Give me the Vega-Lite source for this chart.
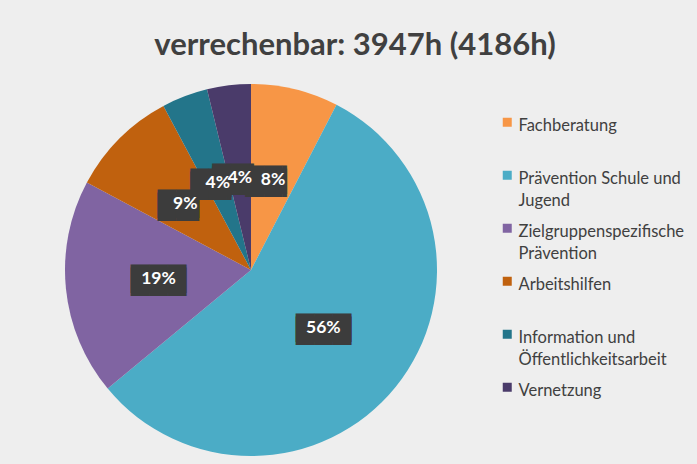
{
  "$schema": "https://vega.github.io/schema/vega-lite/v6.json",
  "autosize": {"type": "none"},
  "width": 372,
  "height": 372,
  "padding": {"left": 65, "top": 84, "right": 260, "bottom": 8},
  "background": "#eeeeee",
  "title": {
    "text": "verrechenbar: 3947h (4186h)",
    "font": "Lato",
    "fontSize": 31,
    "fontWeight": "bold",
    "color": "#404040",
    "anchor": "middle",
    "dx": 104,
    "offset": 22
  },
  "data": {
    "values": [
      {"idx": 1, "kategorie": "Fachberatung", "stunden": 300, "label": "8%"},
      {"idx": 2, "kategorie": "Prävention Schule und Jugend", "stunden": 2226, "label": "56%"},
      {"idx": 3, "kategorie": "Zielgruppenspezifische Prävention", "stunden": 742, "label": "19%"},
      {"idx": 4, "kategorie": "Arbeitshilfen", "stunden": 371, "label": "9%"},
      {"idx": 5, "kategorie": "Information und Öffentlichkeitsarbeit", "stunden": 158, "label": "4%"},
      {"idx": 6, "kategorie": "Vernetzung", "stunden": 150, "label": "4%"}
    ]
  },
  "encoding": {
    "theta": {"field": "stunden", "type": "quantitative", "stack": true},
    "order": {"field": "idx", "type": "quantitative"}
  },
  "layer": [
    {
      "mark": {"type": "arc", "outerRadius": 186},
      "encoding": {
        "color": {
          "field": "kategorie",
          "type": "nominal",
          "scale": {
            "domain": ["Fachberatung", "Prävention Schule und Jugend", "Zielgruppenspezifische Prävention", "Arbeitshilfen", "Information und Öffentlichkeitsarbeit", "Vernetzung"],
            "range": ["#f79646", "#4bacc6", "#8064a2", "#c0610e", "#23758a", "#4a3b6a"]
          },
          "legend": {
            "title": null,
            "orient": "none",
            "legendX": 434,
            "legendY": 30,
            "symbolType": "square",
            "symbolSize": 81,
            "symbolStrokeWidth": 0,
            "labelFont": "Lato",
            "labelFontSize": 16.5,
            "labelColor": "#404040",
            "labelLimit": 220,
            "labelOffset": 3,
            "labelBaseline": "top",
            "gridAlign": "all",
            "rowPadding": 10,
            "labelExpr": "datum.label === 'Prävention Schule und Jugend' ? ['Prävention Schule und', 'Jugend'] : datum.label === 'Zielgruppenspezifische Prävention' ? ['Zielgruppenspezifische', 'Prävention'] : datum.label === 'Information und Öffentlichkeitsarbeit' ? ['Information und', 'Öffentlichkeitsarbeit'] : datum.label",
            "encode": {"labels": {"update": {"lineHeight": {"value": 22}, "dy": {"value": -4}}}}
          }
        }
      }
    },
    {
      "transform": [{"calculate": "length(datum.label) > 2 ? ['███', '███'] : ['██▎', '██▎']", "as": "box"}],
      "mark": {"type": "text", "radius": 93, "font": "DejaVu Sans", "fontSize": 24, "lineHeight": 3, "color": "#3c3c3c", "baseline": "middle", "dy": 1},
      "encoding": {"text": {"field": "box", "type": "nominal"}}
    },
    {
      "mark": {"type": "text", "radius": 93, "font": "Lato", "fontSize": 17.5, "fontWeight": "bold", "color": "#ffffff", "baseline": "middle"},
      "encoding": {"text": {"field": "label", "type": "nominal"}}
    }
  ],
  "config": {"view": {"stroke": null}}
}
